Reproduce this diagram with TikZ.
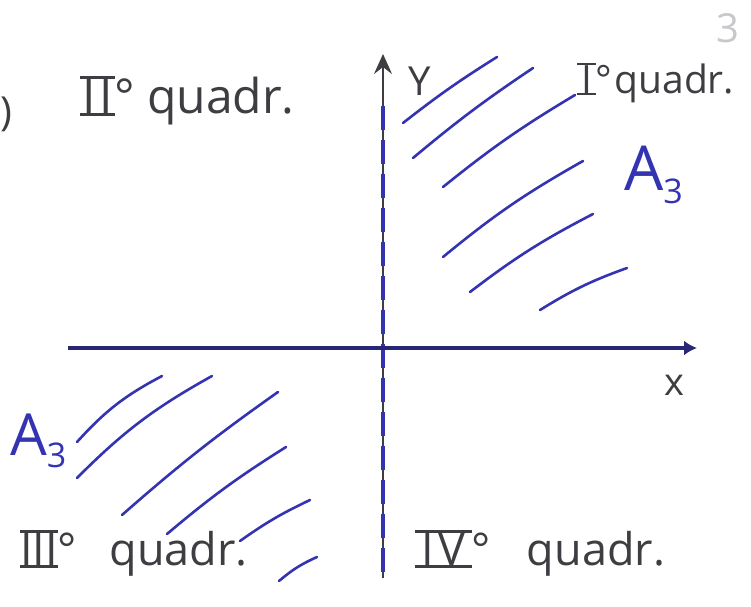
\documentclass[tikz,border=0pt]{standalone}
\usepackage{fontspec}
\setmainfont{Open Sans}
\usetikzlibrary{arrows.meta}
\definecolor{ink}{RGB}{52,52,178}
\definecolor{navy}{RGB}{40,38,118}
\definecolor{pencil}{RGB}{62,62,66}
\definecolor{faded}{RGB}{200,200,204}
\newcommand\romnum[1]{\setbox0\hbox{#1}%
  \rlap{\rule[-0.06em]{\wd0}{0.06em}}\rlap{\rule[\ht0]{\wd0}{0.06em}}\box0}
\newcommand\subthree{\raisebox{-0.22em}{\fontsize{34}{34}\selectfont 3}}

\begin{document}
\begin{tikzpicture}[x=1pt,y=-1pt,
    hatch/.style={ink,line width=2.6pt,line cap=round},
    quad/.style={text=pencil,inner sep=0pt,anchor=base west},
    area/.style={text=ink,inner sep=0pt,anchor=base west,font=\fontsize{62}{70}\selectfont}
]
\useasboundingbox (0,0) rectangle (751,606);
% axes
\coordinate (xs) at (68,348);
\coordinate (xe) at (697,348);
\coordinate (ys) at (383,578);
\coordinate (ye) at (383,54);
\draw[pencil,line width=1.8pt,-{Stealth[length=20pt,width=18pt,inset=7pt]}] (ys) -- (ye);
\draw[ink,line width=3.4pt,dash pattern=on 24pt off 10pt] (383,572) -- (383,100);
\draw[navy,line width=4.4pt,-{Latex[length=13pt,width=15pt]}] (xs) -- (xe);
\node[text=pencil,font=\fontsize{40}{44}\selectfont,anchor=base west,inner sep=0pt] (ylab) at (408,95) {Y};
\node[text=pencil,font=\fontsize{38}{44}\selectfont,anchor=base west,inner sep=0pt] (xlab) at (664,395) {x};
% hatching, first quadrant
\draw[hatch] (403,123) to[bend left=3] (497,57);
\draw[hatch] (413,158) to[bend left=3] (533,68);
\draw[hatch] (443,187) to[bend left=4] (575,95);
\draw[hatch] (443,257) to[bend left=5] (583,161);
\draw[hatch] (470,292) to[bend left=5] (593,214);
\draw[hatch] (540,310) to[bend left=6] (627,268);
% hatching, third quadrant
\draw[hatch] (77,442) to[bend left=10] (162,376);
\draw[hatch] (77,478) to[bend left=8] (212,376);
\draw[hatch] (122,515) to[bend left=3] (278,392);
\draw[hatch] (167,534) to[bend left=4] (286,447);
\draw[hatch] (240,541) to[bend left=5] (310,500);
\draw[hatch] (279,581) to[bend left=8] (317,557);
% labels
\node[quad,font=\fontsize{48}{56}\selectfont] (q2) at (80,113) {\romnum{\kern0.05em I\kern0.07em I\kern0.04em}°\hspace{0.25em}quadr.};
\node[quad,font=\fontsize{39}{44}\selectfont] (q1) at (577,93) {\romnum{\kern0.1em I\kern0.1em}°\hspace{0.05em}quadr.};
\node[quad,font=\fontsize{45}{52}\selectfont] (q3) at (20,565) {\romnum{III}°\hspace{0.72em}quadr.};
\node[quad,font=\fontsize{45}{52}\selectfont] (q4) at (415,565) {\romnum{\kern0.15em I\kern0.08em V\kern0.15em}°\hspace{0.8em}quadr.};
\node[area] (a1) at (624,190) {A\subthree};
\node[area,font=\fontsize{58}{66}\selectfont] (a3) at (10,455) {A\subthree};
\node[text=faded,font=\fontsize{40}{44}\selectfont,anchor=base west,inner sep=0pt] (page) at (716,42) {3};
\node[text=pencil,font=\fontsize{40}{44}\selectfont,anchor=base west,inner sep=0pt] (paren) at (0,125) {)};
\end{tikzpicture}
\end{document}
